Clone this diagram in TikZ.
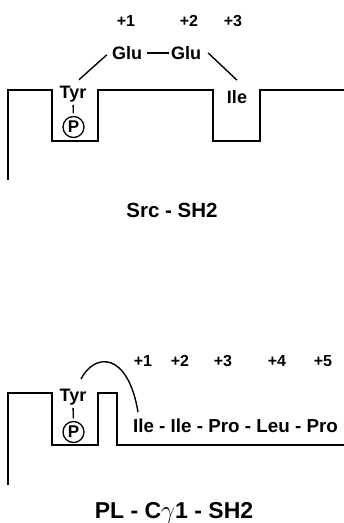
\documentclass[tikz,border=0pt]{standalone}
\usepackage{fontspec}
\setmainfont{Liberation Sans}
\begin{document}
\begin{tikzpicture}[x=1pt,y=-1pt,
  lbl/.style={font=\fontsize{18}{21}\selectfont\bfseries, inner sep=1pt},
  posn/.style={font=\fontsize{16}{19}\selectfont\bfseries, inner sep=1pt},
  ttl/.style={font=\fontsize{20.5}{24}\selectfont\bfseries, inner sep=1pt},
  phos/.style={circle, draw, line width=1.3pt, minimum size=21pt, inner sep=0pt, font=\fontsize{17}{19}\selectfont\bfseries},
  wall/.style={line width=1.6pt, line join=miter},
  conn/.style={line width=1.4pt},
  tick/.style={line width=1.4pt, shorten <=1.5pt, shorten >=2.5pt}]
\useasboundingbox (0,0) rectangle (344,523);
% ---------- Src SH2 ----------
\draw[wall] (8,180) -- (8,90) -- (52,90) -- (52,141) -- (98,141) -- (98,90) -- (213,90) -- (213,141) -- (260,141) -- (260,90) -- (344,90);
\node[posn] (p1a) at (126,21) {+1};
\node[posn] (p2a) at (189,21) {+2};
\node[posn] (p3a) at (233,21) {+3};
\node[lbl] (glu1) at (127,53) {Glu};
\node[lbl] (glu2) at (186,53) {Glu};
\node[lbl] (tyr1) at (73,94) {Tyr};
\node[phos] (ph1) at (73.5,127) {P};
\node[lbl] (ile1) at (237,97) {Ile};
\draw[conn] ([xshift=4pt]glu1.east) -- ([xshift=-1pt]glu2.west);
\draw[conn] ([shift={(6,-5)}]tyr1.north) -- ([shift={(-4,-6)}]glu1.south west);
\draw[conn] ([shift={(6,0)}]glu2.east) -- ([shift={(0,-9)}]ile1.north);
\draw[tick] (tyr1) -- (ph1);
\node[ttl] (src) at (172,210) {Src - SH2};
% ---------- PLC gamma1 SH2 ----------
\draw[wall] (8,485) -- (8,393) -- (52,393) -- (52,445) -- (98,445) -- (98,393) -- (117,393) -- (117,445) -- (344,445);
\node[posn] (p1b) at (143,361) {+1};
\node[posn] (p2b) at (180,361) {+2};
\node[posn] (p3b) at (223,361) {+3};
\node[posn] (p4b) at (277,361) {+4};
\node[posn] (p5b) at (323,361) {+5};
\node[lbl] (tyr2) at (73,397) {Tyr};
\node[phos] (ph2) at (73.5,432) {P};
\draw[tick] (tyr2) -- (ph2);
\node[lbl, font=\fontsize{18.8}{22}\selectfont\bfseries] (seq) at (235.5,426) {Ile - Ile - Pro - Leu - Pro};
\coordinate (cs) at (81,379);
\coordinate (ce) at (138,412);
\draw[conn] (cs) .. controls (95,352) and (128,352) .. (ce);
\node[ttl, font=\fontsize{23}{27}\selectfont\bfseries] (plc) at (174,513) {PL - C{\mdseries$\gamma$}1 - SH2};
\end{tikzpicture}
\end{document}
